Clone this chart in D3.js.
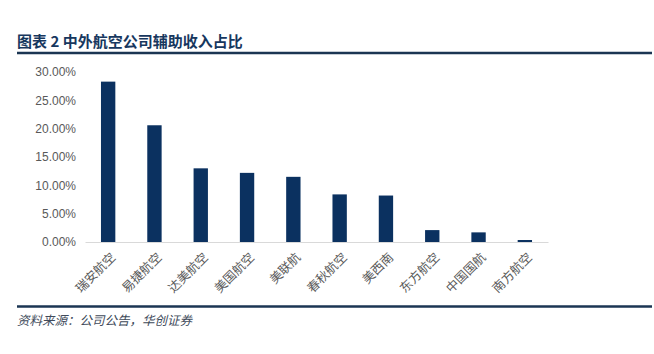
<!DOCTYPE html>
<html>
<head>
<meta charset="utf-8" />
<title>中外航空公司辅助收入占比</title>
<style>
* { padding: 0; margin: 0; }
body { background: #fff; width: 654px; height: 354px; overflow: hidden; }
#chart { width: 654px; height: 354px; }
</style>
</head>
<body>
<div id="chart"></div>
<script src="https://cdn.jsdelivr.net/npm/d3@7"></script>
<script>
    var airlines = ["瑞安航空", "易捷航空", "达美航空", "美国航空", "美联航", "春秋航空", "美西南", "东方航空", "中国国航", "南方航空"]
    var shares = [28.3, 20.6, 13.0, 12.2, 11.5, 8.4, 8.2, 2.1, 1.7, 0.35]
    var yTicks = [0, 5, 10, 15, 20, 25, 30]

    var width = 654, height = 354
    var margin = {top: 72, left: 85, bottom: 112, right: 106}
    var font = "'Noto Sans CJK SC', 'Liberation Sans', Arial, sans-serif"

    var svg = d3.select("#chart").append("svg")
        .attr("width", width).attr("height", height)

    // title + rules
    svg.append("text")
        .attr("x", 17).attr("y", 47)
        .attr("font-family", font).attr("font-size", 15).attr("font-weight", "bold")
        .attr("fill", "#17375e")
        .text("图表 2 中外航空公司辅助收入占比")
    svg.append("line")
        .attr("x1", 17).attr("x2", 652).attr("y1", 53).attr("y2", 53)
        .attr("stroke", "#1b3553").attr("stroke-width", 2.5)
    svg.append("line")
        .attr("x1", 17).attr("x2", 652).attr("y1", 306.5).attr("y2", 306.5)
        .attr("stroke", "#1b3553").attr("stroke-width", 2.5)
    svg.append("text")
        .attr("x", 17).attr("y", 325)
        .attr("font-family", font).attr("font-size", 12.5).attr("font-style", "italic")
        .attr("fill", "#404a5a")
        .text("资料来源：公司公告，华创证券")

    var x = d3.scaleBand()
        .domain(airlines)
        .range([margin.left, width - margin.right])
        .paddingInner(0.69).paddingOuter(0.345)

    var y = d3.scaleLinear()
        .domain([0, 30])
        .range([height - margin.bottom, margin.top])

    // y axis labels
    var yAxis = d3.axisLeft(y)
        .tickValues(yTicks)
        .tickSize(0).tickPadding(0)
        .tickFormat(function(d) { return d3.format(".2f")(d) + "%" })
    var gy = svg.append("g")
        .attr("transform", "translate(76,0)")
        .call(yAxis)
    gy.select(".domain").remove()
    gy.selectAll("text")
        .attr("font-family", "'Liberation Sans', Arial, sans-serif")
        .attr("font-size", 12).attr("fill", "#595959")

    // bars
    svg.append("g").selectAll("rect")
        .data(shares)
        .enter().append("rect")
        .attr("x", function(d, i) { return x(airlines[i]) })
        .attr("y", function(d) { return y(d) })
        .attr("width", x.bandwidth())
        .attr("height", function(d) { return y(0) - y(d) })
        .attr("fill", "#0b3160")

    // x axis
    var xAxis = d3.axisBottom(x).tickSize(0).tickPadding(0)
    var gx = svg.append("g")
        .attr("transform", "translate(0," + y(0) + ")")
        .call(xAxis)
    gx.select(".domain").attr("stroke", "#d9d9d9").attr("stroke-width", 1)
    gx.selectAll("text")
        .attr("font-family", font).attr("font-size", 12.5).attr("fill", "#595959")
        .attr("text-anchor", "end")
        .attr("dy", "0.35em")
        .attr("transform", "translate(5,13) rotate(-45)")
</script>
</body>
</html>
